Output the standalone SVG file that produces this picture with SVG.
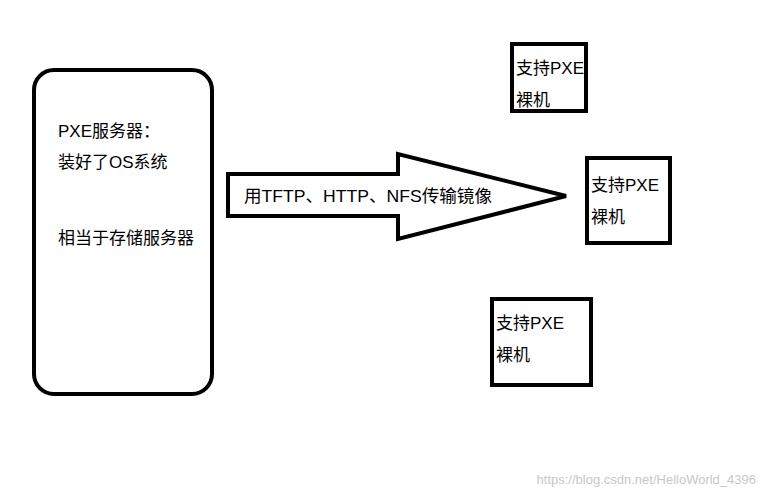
<svg xmlns="http://www.w3.org/2000/svg" width="764" height="494" viewBox="0 0 764 494">
<style>
.b{fill:#fff;stroke:#000;stroke-width:4}
.t{font-family:"Liberation Sans","Noto Sans CJK SC",sans-serif;font-size:17px;fill:#000}
</style>
<rect width="764" height="494" fill="#fff"/>
<g id="server"><rect class="b" x="34" y="70" width="178" height="324" rx="20"/>
<text class="t" x="58" y="137">PXE服务器：</text>
<text class="t" x="58" y="168">装好了OS系统</text>
<text class="t" x="58" y="244">相当于存储服务器</text></g>
<g id="connectors"><polygon class="b" points="228,174 398,174 398,154 566,196 398,239 398,216 228,216"/>
<text class="t" x="244" y="202" textLength="248" lengthAdjust="spacingAndGlyphs">用TFTP、HTTP、NFS传输镜像</text></g>
<g id="m1"><rect class="b" x="512" y="44" width="74" height="67"/>
<text class="t" x="516" y="74">支持PXE</text><text class="t" x="516" y="106">裸机</text></g>
<g id="m2"><rect class="b" x="587" y="158" width="83" height="85"/>
<text class="t" x="591" y="191">支持PXE</text><text class="t" x="591" y="223">裸机</text></g>
<g id="m3"><rect class="b" x="492" y="299" width="99" height="86"/>
<text class="t" x="496" y="329">支持PXE</text><text class="t" x="496" y="361">裸机</text></g>
<text x="756" y="484" text-anchor="end" font-family="Liberation Sans,sans-serif" font-size="13" fill="#c8c8c8">https://blog.csdn.net/HelloWorld_4396</text>
</svg>
